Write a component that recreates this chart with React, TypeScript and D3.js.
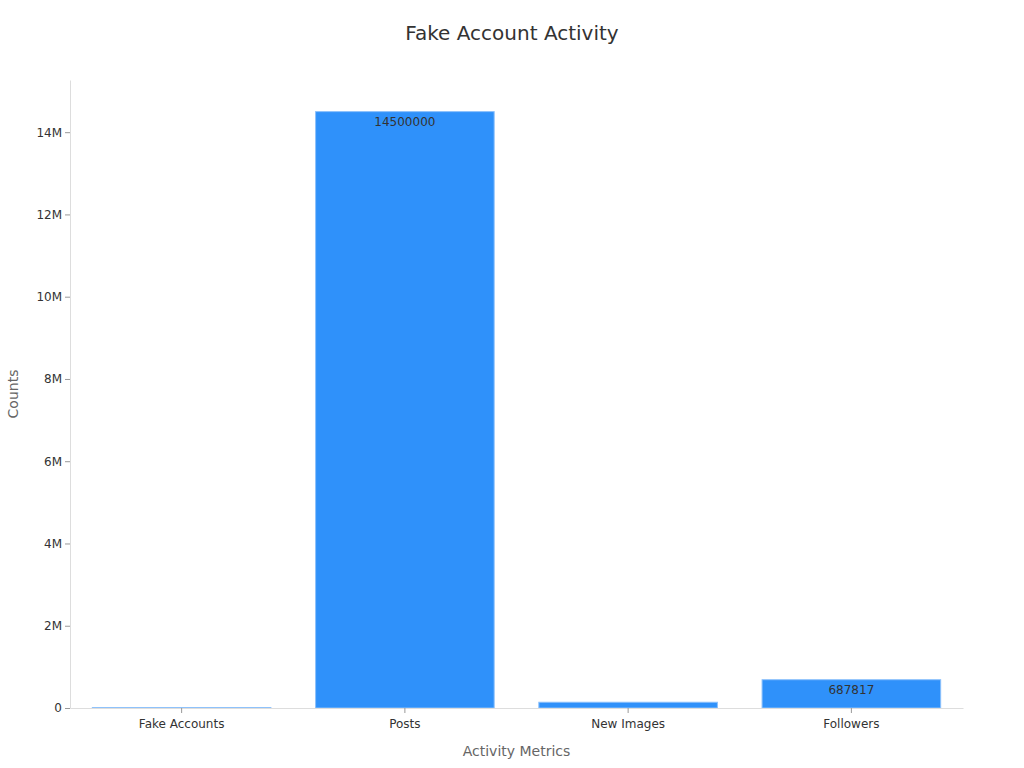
import React, { useEffect, useRef } from 'react';
import * as d3 from 'd3';

// chart data
const categories = ['Fake Accounts', 'Posts', 'New Images', 'Followers'];
const counts = [10000, 14500000, 140000, 687817];
const yTicks = [0, 2000000, 4000000, 6000000, 8000000, 10000000, 12000000, 14000000];

const App: React.FC = () => {
  const svgRef = useRef<SVGSVGElement>(null);

  useEffect(() => {
    if (!svgRef.current) return;
    const svg = d3.select(svgRef.current);
    svg.selectAll('*').remove();

    const width = 1024;
    const height = 768;
    const margin = { top: 80, right: 61, bottom: 60, left: 70 };
    const font = 'DejaVu Sans, sans-serif';

    const x = d3.scaleBand<string>()
      .domain(categories)
      .range([margin.left, width - margin.right])
      .paddingInner(0.2)
      .paddingOuter(0.1);

    const y = d3.scaleLinear()
      .domain([0, d3.max(counts)! * 1.053])
      .range([height - margin.bottom, margin.top]);

    // title
    svg.append('text')
      .attr('x', width / 2)
      .attr('y', 40)
      .attr('text-anchor', 'middle')
      .style('font', `20px ${font}`)
      .attr('fill', '#333')
      .text('Fake Account Activity');

    // bars
    svg.append('g')
      .selectAll('rect')
      .data(categories)
      .join('rect')
        .attr('x', d => x(d)!)
        .attr('width', x.bandwidth())
        .attr('y', (d, i) => y(counts[i]))
        .attr('height', (d, i) => y(0) - y(counts[i]))
        .attr('fill', '#2f91fa')
        .attr('stroke', '#8cc0fb')
        .attr('stroke-width', 1);

    // value labels (only where the bar is tall enough)
    svg.append('g')
      .selectAll('text')
      .data(categories)
      .join('text')
        .filter((d, i) => y(0) - y(counts[i]) > 20)
        .attr('x', d => x(d)! + x.bandwidth() / 2)
        .attr('y', d => y(counts[categories.indexOf(d)]) + 14)
        .attr('text-anchor', 'middle')
        .style('font', `12px ${font}`)
        .attr('fill', '#333')
        .text(d => String(counts[categories.indexOf(d)]));

    // y axis
    const yAxis = svg.append('g')
      .attr('transform', `translate(${margin.left},0)`)
      .call(d3.axisLeft(y)
        .tickValues(yTicks)
        .tickSize(5)
        .tickSizeOuter(0)
        .tickFormat(d => (+d === 0 ? '0' : `${+d / 1e6}M`)));
    yAxis.select('.domain').attr('stroke', '#ddd');
    yAxis.selectAll('.tick line').attr('stroke', '#999');
    yAxis.selectAll('.tick text')
      .style('font', `12px ${font}`)
      .attr('fill', '#333');

    // x axis
    const xAxis = svg.append('g')
      .attr('transform', `translate(0,${height - margin.bottom})`)
      .call(d3.axisBottom(x).tickSize(5).tickSizeOuter(0));
    xAxis.select('.domain').attr('stroke', '#ddd');
    xAxis.selectAll('.tick line').attr('stroke', '#999');
    xAxis.selectAll('.tick text')
      .style('font', `12px ${font}`)
      .attr('fill', '#333')
      .attr('dy', '1em');

    // axis titles
    svg.append('text')
      .attr('x', (margin.left + width - margin.right) / 2)
      .attr('y', 756)
      .attr('text-anchor', 'middle')
      .style('font', `14px ${font}`)
      .attr('fill', '#666')
      .text('Activity Metrics');

    svg.append('text')
      .attr('transform', `translate(18,${(margin.top + height - margin.bottom) / 2}) rotate(-90)`)
      .attr('text-anchor', 'middle')
      .style('font', `14px ${font}`)
      .attr('fill', '#666')
      .text('Counts');
  }, []);

  return (
    <svg
      ref={svgRef}
      width={1024}
      height={768}
      style={{ position: 'absolute', left: 0, top: 0, background: '#fff' }}
    />
  );
};

export default App;
